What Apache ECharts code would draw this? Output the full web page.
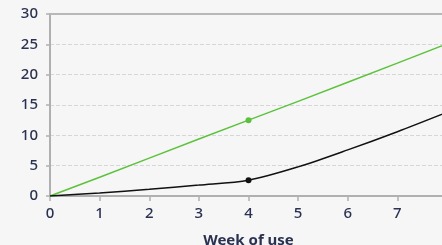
<!doctype html>
<html>
<head>
<meta charset="UTF-8">
<title>Week of use</title>
<script src="https://cdn.jsdelivr.net/npm/echarts@6/dist/echarts.min.js"></script>
<style>
  html, body { margin: 0; padding: 0; background: #f6f6f6; }
  #main { width: 442px; height: 245px; }
</style>
</head>
<body>
<div id="main"></div>
<script>
// data
var weeks = [0, 1, 2, 3, 4, 5, 6, 7, 8];
var greenVals = [0, 3.1, 6.25, 9.4, 12.5, 15.6, 18.75, 21.9, 25.1];
var blackVals = [0, 0.5, 1.1, 1.8, 2.6, 4.8, 7.6, 10.6, 13.8];
var markedWeek = 4;
var yTicks = [0, 5, 10, 15, 20, 25, 30];

var txt = '#2b3150';

function build(vals) {
  var out = [];
  for (var i = 0; i < weeks.length; i++) {
    out.push({
      value: [weeks[i], vals[i]],
      symbolSize: weeks[i] === markedWeek ? 6 : 0
    });
  }
  return out;
}

var myChart = echarts.init(document.getElementById('main'));
var option = {
  backgroundColor: '#f6f6f6',
  animation: false,
  grid: { left: 50, top: 14, bottom: 49, right: -5, outerBoundsMode: 'none', containLabel: false },
  xAxis: [{
    type: 'value', min: 0, max: 8, interval: 1,
    name: 'Week of use', nameLocation: 'middle', nameGap: 37,
    nameTextStyle: { color: txt, fontSize: 15, fontWeight: 'bold', fontFamily: 'Noto Sans' },
    axisLine: { lineStyle: { color: '#b0b0b0', width: 2 } },
    axisTick: { show: true, length: 5, lineStyle: { color: '#b0b0b0', width: 1.5 } },
    axisLabel: { color: txt, fontSize: 15, margin: 10, fontFamily: 'Noto Sans', fontWeight: 500 },
    splitLine: { show: false }
  }, {
    type: 'value', min: 0, max: 8, position: 'top',
    axisLine: { show: true, lineStyle: { color: '#b8b8b8', width: 2 } },
    axisTick: { show: false }, axisLabel: { show: false }, splitLine: { show: false }
  }],
  yAxis: {
    type: 'value', min: yTicks[0], max: yTicks[yTicks.length - 1], interval: 5,
    axisLine: { show: true, lineStyle: { color: '#b0b0b0', width: 2 } },
    axisTick: { show: true, length: 4, lineStyle: { color: '#b0b0b0', width: 1.5 } },
    axisLabel: { color: txt, fontSize: 15, margin: 12, fontFamily: 'Noto Sans', fontWeight: 500 },
    splitLine: { lineStyle: { color: '#d6d6d6', type: 'dashed', width: 1 } }
  },
  series: [{
    name: 'green', type: 'line',
    data: build(greenVals),
    symbol: 'circle', showSymbol: true,
    lineStyle: { color: '#5cc23c', width: 1.5 },
    itemStyle: { color: '#5cc23c' }
  }, {
    name: 'black', type: 'line', smooth: 0.3,
    data: build(blackVals),
    symbol: 'circle', showSymbol: true,
    lineStyle: { color: '#111111', width: 1.5 },
    itemStyle: { color: '#111111' }
  }]
};
myChart.setOption(option);
</script>
</body>
</html>
